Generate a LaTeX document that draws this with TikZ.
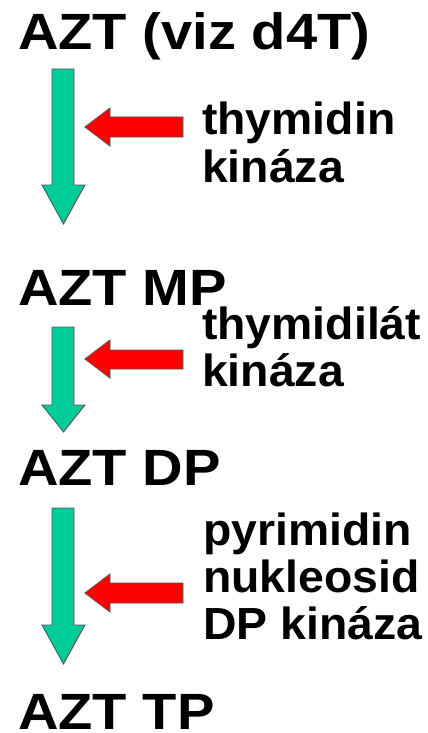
\documentclass[tikz,border=0pt]{standalone}
\usepackage{fontspec}
\setmainfont{Liberation Sans}
\newfontfamily\bigfont[FakeStretch=1.1]{Liberation Sans}
\newfontfamily\smallfont[FakeStretch=1.03]{Liberation Sans}
\definecolor{azgreen}{HTML}{00CC99}
\definecolor{azred}{HTML}{FF0000}
\definecolor{azedge}{HTML}{555555}
\tikzset{
  biglabel/.style={anchor=base west, inner sep=0pt, font=\bigfont\bfseries\fontsize{51}{51}\selectfont},
  enzline/.style={anchor=base west, inner sep=0pt, font=\smallfont\bfseries\fontsize{45}{46}\selectfont},
  greenarrow/.style={fill=azgreen, draw=azedge, line width=0.9pt, line join=miter},
  redarrow/.style={fill=azred, draw=azedge, line width=0.9pt, line join=miter}
}
\begin{document}
\begin{tikzpicture}[x=1pt,y=-1pt]
\useasboundingbox (0,0) rectangle (428,733);
% substance labels
\node[biglabel] (azt) at (18,50) {AZT (viz d4T)};
\node[biglabel] (mp) at (18,305) {AZT MP};
\node[biglabel] (dp) at (18,485) {AZT DP};
\node[biglabel] (tp) at (18,729) {AZT TP};
% enzyme labels
\node[enzline] (e1a) at (202,135) {thymidin};
\node[enzline] (e1b) at (202,182) {kináza};
\node[enzline] (e2a) at (202,339) {thymidilát};
\node[enzline] (e2b) at (202,386) {kináza};
\node[enzline] (e3a) at (203,545) {pyrimidin};
\node[enzline] (e3b) at (203,592) {nukleosid};
\node[enzline] (e3c) at (203,639) {DP kináza};
% green block arrows
\draw[greenarrow] (52,69) -- (74,69) -- (74,185) -- (85,185) -- (63.5,224) -- (42,185) -- (52,185) -- cycle;
\draw[greenarrow] (52,327) -- (74,327) -- (74,405) -- (85,405) -- (63.5,432) -- (42,405) -- (52,405) -- cycle;
\draw[greenarrow] (52,508) -- (74,508) -- (74,625) -- (85,625) -- (63.5,664) -- (42,625) -- (52,625) -- cycle;
% red block arrows
\draw[redarrow] (183,117) -- (110,117) -- (110,108) -- (85,127) -- (110,146) -- (110,137) -- (183,137) -- cycle;
\draw[redarrow] (183,350) -- (110,350) -- (110,340) -- (85,359) -- (110,378) -- (110,369) -- (183,369) -- cycle;
\draw[redarrow] (183,583) -- (110,583) -- (110,574) -- (85,593) -- (110,612) -- (110,603) -- (183,603) -- cycle;
\end{tikzpicture}
\end{document}
